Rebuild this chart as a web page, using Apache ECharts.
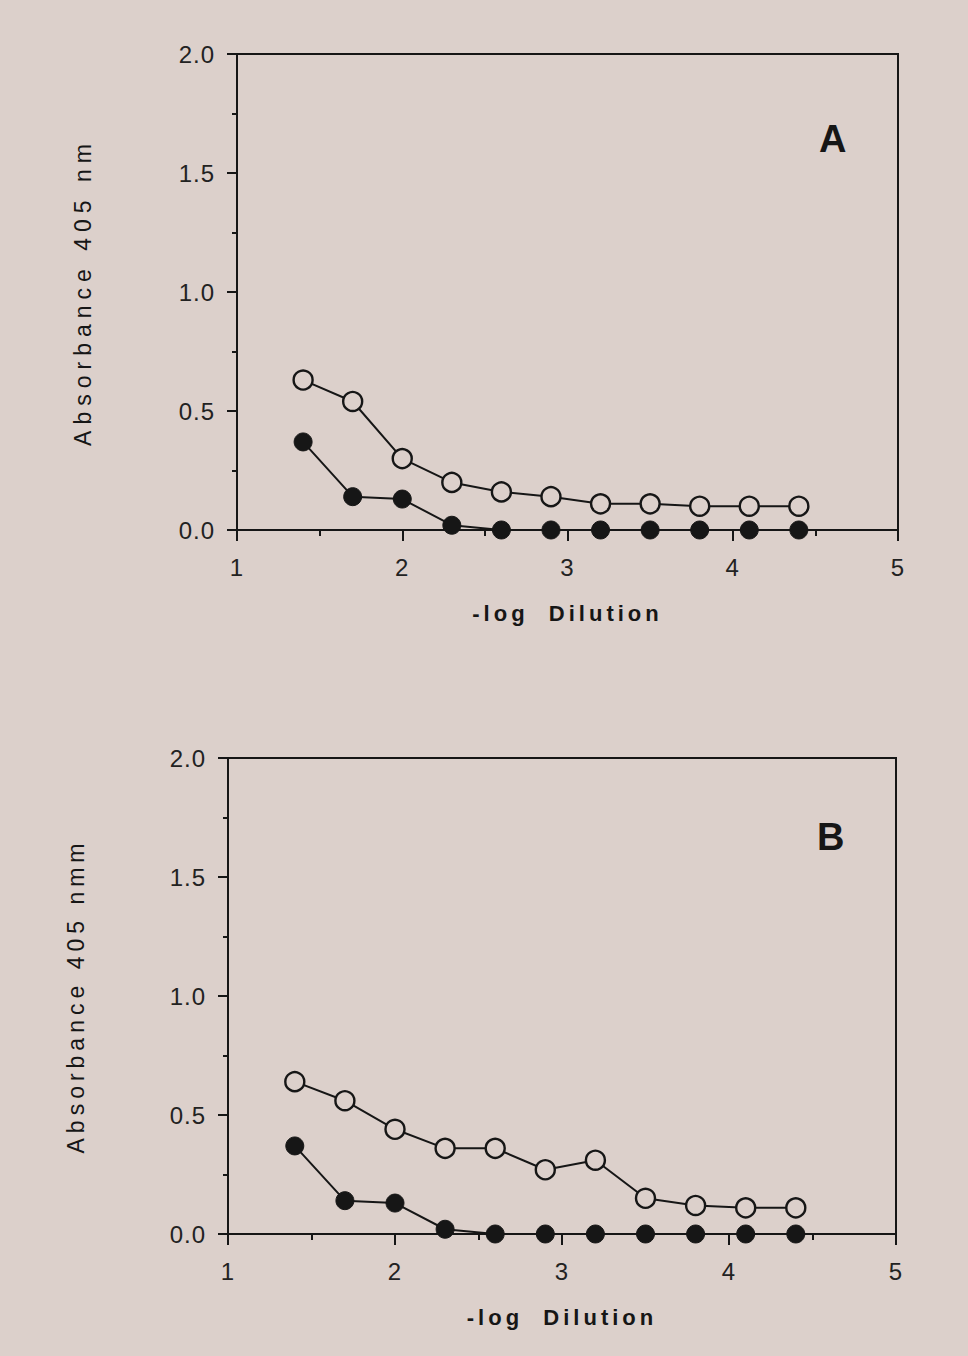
<!DOCTYPE html>
<html>
<head>
<meta charset="utf-8">
<script src="https://cdn.jsdelivr.net/npm/echarts@6/dist/echarts.min.js"></script>
<style>
  html, body { margin: 0; padding: 0; background: #dcd0cb; }
  #chart { width: 968px; height: 1356px; }
</style>
</head>
<body>
<div id="chart"></div>
<script>
// -log dilution (same for both panels)
var dilution = [1.4, 1.7, 2.0, 2.3, 2.6, 2.9, 3.2, 3.5, 3.8, 4.1, 4.4]
// panel A
var aOpen = [0.63, 0.54, 0.30, 0.20, 0.16, 0.14, 0.11, 0.11, 0.10, 0.10, 0.10]
var aFilled = [0.37, 0.14, 0.13, 0.02, 0, 0, 0, 0, 0, 0, 0]
// panel B
var bOpen = [0.64, 0.56, 0.44, 0.36, 0.36, 0.27, 0.31, 0.15, 0.12, 0.11, 0.11]
var bFilled = [0.37, 0.14, 0.13, 0.02, 0, 0, 0, 0, 0, 0, 0]
// axis texts
var yNames = ['Absorbance 405 nm', 'Absorbance 405 nmm']
var xName = '-log  Dilution'
var panelLetters = ['A', 'B']

var bg = '#dcd0cb'
var ink = '#161616'
var font = '"Liberation Sans", Arial, Helvetica, sans-serif'

function pairs (xs, ys) {
  return xs.map(function (x, i) { return [x, ys[i]] })
}

function makeX (idx) {
  return {
    gridIndex: idx,
    type: 'value',
    min: 1,
    max: 5,
    interval: 1,
    name: xName,
    nameLocation: 'middle',
    nameGap: 72,
    nameTextStyle: { color: ink, fontFamily: font, fontSize: 22, fontWeight: 'bold' },
    axisLine: { onZero: false, lineStyle: { color: ink, width: 2 } },
    axisTick: { inside: false, length: 11, lineStyle: { color: ink, width: 2 } },
    minorTick: { show: true, splitNumber: 2, length: 6, lineStyle: { color: ink, width: 2 } },
    axisLabel: { color: '#222', fontFamily: font, fontSize: 24, margin: 25 },
    splitLine: { show: false }
  }
}

function makeY (idx) {
  return {
    gridIndex: idx,
    type: 'value',
    min: 0,
    max: 2,
    interval: 0.5,
    name: yNames[idx],
    nameLocation: 'middle',
    nameRotate: 90,
    nameGap: idx === 0 ? 143 : 141,
    nameTextStyle: { color: ink, fontFamily: font, fontSize: 23 },
    axisLine: { onZero: false, lineStyle: { color: ink, width: 2 } },
    axisTick: { inside: false, length: 10, lineStyle: { color: ink, width: 2 } },
    minorTick: { show: true, splitNumber: 2, length: 5, lineStyle: { color: ink, width: 2 } },
    axisLabel: {
      color: '#222', fontFamily: font, fontSize: 24, margin: 22,
      formatter: function (v) { return v.toFixed(1) }
    },
    splitLine: { show: false }
  }
}

function makeSeries (idx, ys, filled) {
  return {
    type: 'line',
    xAxisIndex: idx,
    yAxisIndex: idx,
    data: pairs(dilution, ys),
    symbol: 'circle',
    symbolSize: filled ? 18 : 19,
    lineStyle: { color: ink, width: 2 },
    itemStyle: filled
      ? { color: ink, borderColor: ink, borderWidth: 1 }
      : { color: bg, borderColor: ink, borderWidth: 2.4 },
    z: filled ? 3 : 4
  }
}

var chart = echarts.init(document.getElementById('chart'), null, { renderer: 'svg' })

chart.setOption({
  backgroundColor: bg,
  animation: false,
  grid: [
    { left: 237, top: 54, width: 661, height: 476, show: true, borderColor: ink, borderWidth: 2, backgroundColor: 'transparent' },
    { left: 228, top: 758, width: 668, height: 476, show: true, borderColor: ink, borderWidth: 2, backgroundColor: 'transparent' }
  ],
  xAxis: [makeX(0), makeX(1)],
  yAxis: [makeY(0), makeY(1)],
  graphic: [
    { type: 'text', left: 819, top: 120, style: { text: panelLetters[0], fill: ink, font: 'bold 38px ' + font } },
    { type: 'text', left: 817, top: 818, style: { text: panelLetters[1], fill: ink, font: 'bold 38px ' + font } }
  ],
  series: [
    makeSeries(0, aOpen, false),
    makeSeries(0, aFilled, true),
    makeSeries(1, bOpen, false),
    makeSeries(1, bFilled, true)
  ]
})

// the original type is letter-spaced; svg texts take a letter-spacing attribute
var yNameSpacing = [6, 5]
function spaceLetters () {
  var texts = document.querySelectorAll('#chart text')
  for (var i = 0; i < texts.length; i++) {
    var t = texts[i].textContent
    var sp = 1
    if (yNames.indexOf(t) > -1) sp = yNameSpacing[yNames.indexOf(t)]
    else if (t === xName) sp = 4
    else if (panelLetters.indexOf(t) > -1) sp = 0
    texts[i].setAttribute('letter-spacing', sp + 'px')
  }
}
spaceLetters()
chart.on('finished', spaceLetters)
</script>
</body>
</html>
